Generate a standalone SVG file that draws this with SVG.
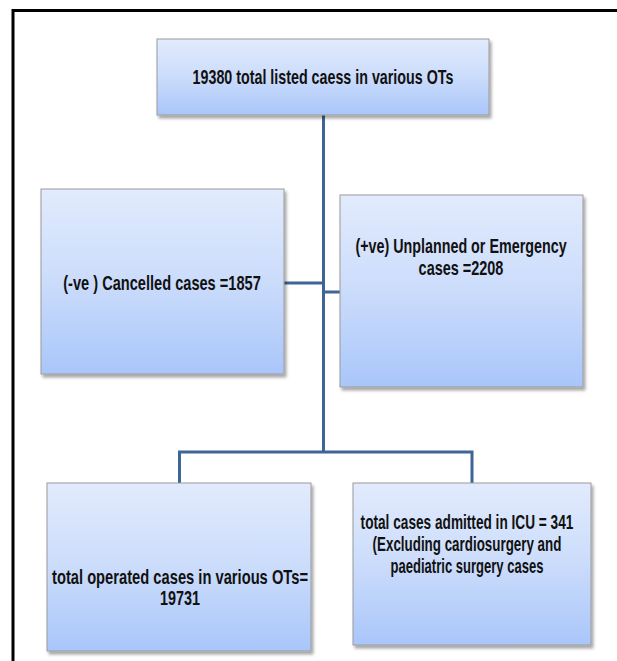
<svg xmlns="http://www.w3.org/2000/svg" width="617" height="661" viewBox="0 0 617 661">
<defs>
<linearGradient id="g" x1="0" y1="0" x2="0" y2="1">
<stop offset="0" stop-color="#e2ebfd"/>
<stop offset="0.5" stop-color="#cbdcfb"/>
<stop offset="1" stop-color="#a9c6fa"/>
</linearGradient>
<filter id="sh" x="-10%" y="-10%" width="125%" height="125%">
<feDropShadow dx="2" dy="3" stdDeviation="1.5" flood-color="#000" flood-opacity="0.35"/>
</filter>
</defs>
<style>
.box{fill:url(#g);stroke:#9a9a9a;stroke-width:1;filter:url(#sh)}
.t{font-family:"Liberation Sans",Arial,sans-serif;font-weight:bold;font-size:19.5px;fill:#111;text-anchor:middle}
.c{fill:none;stroke:#3f6596;stroke-width:3}
.frame{fill:none;stroke:#000;stroke-width:3}
</style>
<rect width="617" height="661" fill="#fff"/>
<path class="frame" d="M13 661 V10.5 H617"/>
<g id="connectors">
<path class="c" d="M323.5 115 V452"/>
<path class="c" d="M284 283 H323.5"/>
<path class="c" d="M323.5 292 H340"/>
<path class="c" d="M179.5 483 V452 H472 V483"/>
</g>
<g id="top">
<rect class="box" x="157" y="39" width="332" height="76"/>
<text class="t" transform="scale(0.8,1)" x="403.75" y="84" textLength="326" lengthAdjust="spacingAndGlyphs">19380 total listed caess in various OTs</text>
</g>
<g id="cancelled">
<rect class="box" x="41" y="189" width="243" height="185"/>
<text class="t" transform="scale(0.8,1)" x="202.5" y="290" textLength="247" lengthAdjust="spacingAndGlyphs">(-ve ) Cancelled cases  =1857</text>
</g>
<g id="unplanned">
<rect class="box" x="340" y="195" width="243" height="192"/>
<text class="t" transform="scale(0.8,1)" x="576.25" y="253" textLength="264" lengthAdjust="spacingAndGlyphs">(+ve) Unplanned or Emergency</text>
<text class="t" transform="scale(0.8,1)" x="576.25" y="275" textLength="106" lengthAdjust="spacingAndGlyphs">cases =2208</text>
</g>
<g id="operated">
<rect class="box" x="47" y="483" width="264" height="168"/>
<text class="t" transform="scale(0.8,1)" x="225" y="584" textLength="320" lengthAdjust="spacingAndGlyphs">total operated cases  in various OTs=</text>
<text class="t" transform="scale(0.8,1)" x="225" y="605" textLength="50" lengthAdjust="spacingAndGlyphs">19731</text>
</g>
<g id="icu">
<rect class="box" x="353" y="483" width="238" height="162"/>
<text class="t" transform="scale(0.8,1)" x="583.75" y="529" textLength="266" lengthAdjust="spacingAndGlyphs">total cases admitted in ICU = 341</text>
<text class="t" transform="scale(0.8,1)" x="583.75" y="551" textLength="236" lengthAdjust="spacingAndGlyphs">(Excluding cardiosurgery and</text>
<text class="t" transform="scale(0.8,1)" x="583.75" y="573" textLength="191" lengthAdjust="spacingAndGlyphs">paediatric surgery cases</text>
</g>
</svg>
